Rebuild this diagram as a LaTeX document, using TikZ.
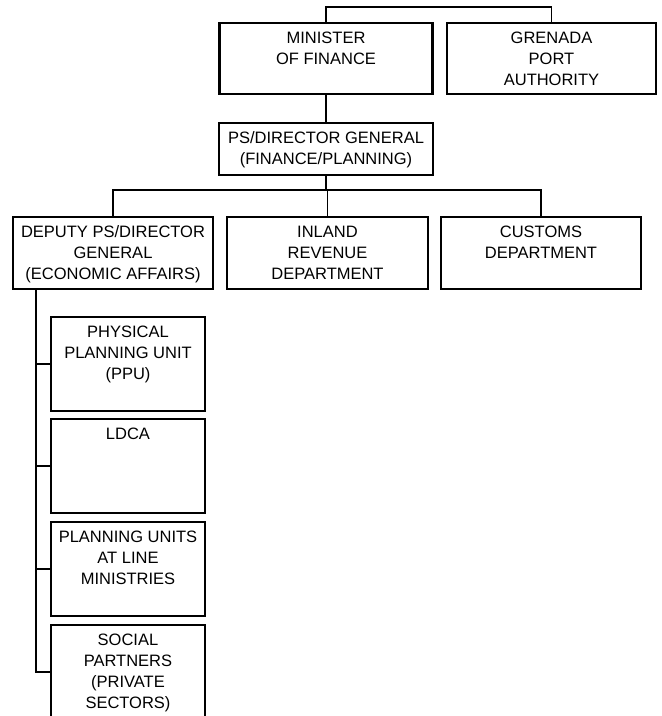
\documentclass[tikz,border=0pt]{standalone}
\usepackage{fontspec}
\setmainfont{Liberation Sans}

\tikzset{
  orgbox/.style={draw, line width=2.2pt, inner xsep=0pt, inner ysep=9pt, font=\fontsize{16.5pt}{21pt}\selectfont},
  link/.style={line width=1.4pt}
}
\newcommand{\boxtext}[3]{\parbox[c][#2][t]{#1}{\centering #3}}

\begin{document}
\begin{tikzpicture}[x=1pt,y=-1pt]
\path[use as bounding box, clip] (0,0) rectangle (662,716);
\node[orgbox] (min) at (326,58.5) {\boxtext{213pt}{53pt}{MINISTER\\OF FINANCE}};
\node[orgbox] (gpa) at (551.5,58.5) {\boxtext{209pt}{53pt}{GRENADA\\PORT\\AUTHORITY}};
\node[orgbox] (psdg) at (326,149) {\boxtext{214pt}{34pt}{PS/DIRECTOR GENERAL\\(FINANCE/PLANNING)}};
\node[orgbox] (dep) at (113,253) {\boxtext{200pt}{54pt}{DEPUTY PS/DIRECTOR\\GENERAL\\(ECONOMIC AFFAIRS)}};
\node[orgbox] (ird) at (327.5,253) {\boxtext{201pt}{54pt}{INLAND\\REVENUE\\DEPARTMENT}};
\node[orgbox] (cus) at (541,253) {\boxtext{200pt}{54pt}{CUSTOMS\\DEPARTMENT}};
\foreach \y/\n/\t in {364/ppu/{PHYSICAL\\PLANNING UNIT\\(PPU)}, 466/ldca/LDCA, 569/plu/{PLANNING UNITS\\AT LINE\\MINISTRIES}, 672/spa/{SOCIAL\\PARTNERS\\(PRIVATE\\SECTORS)}}
  \node[orgbox] (\n) at (128,\y) {\boxtext{154pt}{76pt}{\t}};
\draw[link] (min.north) -- ++(0,-15) -| (gpa.north);
\draw[link] (min.south) -- (psdg.north);
\foreach \t in {dep,ird,cus}
  \draw[link] (psdg.south) -- ++(0,14) -| (\t.north);
\foreach \s in {ppu,ldca,plu,spa}
  \draw[link] ([xshift=24pt]dep.south west) |- (\s.west);
\end{tikzpicture}
\end{document}
